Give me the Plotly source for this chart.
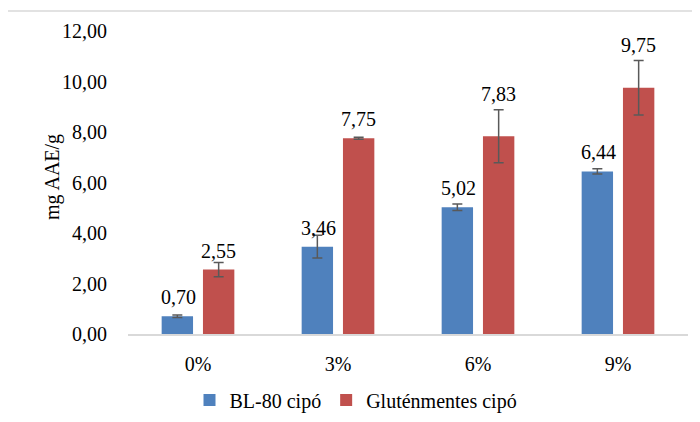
import plotly.graph_objects as go

categories = ["0%", "3%", "6%", "9%"]
bl80_values = [0.70, 3.46, 5.02, 6.44]
bl80_errors = [0.05, 0.45, 0.13, 0.10]
gf_values = [2.55, 7.75, 7.83, 9.75]
gf_errors = [0.28, 0.04, 1.05, 1.08]
series_names = ["BL-80 cipó", "Gluténmentes cipó"]
tick_values = [0, 2, 4, 6, 8, 10, 12]
tick_labels = ["0,00", "2,00", "4,00", "6,00", "8,00", "10,00", "12,00"]

FONT = "Liberation Serif, serif"
BLUE = "#4f81bd"
RED = "#c0504d"
ERR = "#595959"
FS = 20

# plot area in page pixels (page is offset by ~8px body margin)
PL, PR, PT, PB = 128, 688, 31, 334
PW, PH = PR - PL, PB - PT


def px(xp):
    return (xp - PL) / PW


def py(yp):
    return (PB - yp) / PH


fig = go.Figure()
for name, vals, errs, col in [(series_names[0], bl80_values, bl80_errors, BLUE),
                              (series_names[1], gf_values, gf_errors, RED)]:
    fig.add_trace(go.Bar(
        x=categories, y=vals, name=name, marker=dict(color=col, line=dict(width=0)),
        error_y=dict(type="data", array=errs, visible=True, color=ERR, thickness=1.5, width=5),
    ))

# data labels
for idx, (vals, errs) in enumerate([(bl80_values, bl80_errors), (gf_values, gf_errors)]):
    for i, (v, e) in enumerate(zip(vals, errs)):
        big = e > 0.5
        fig.add_annotation(
            x=categories[i], y=(v + e) if big else v, xref="x", yref="y",
            text=f"{v:.2f}".replace(".", ","), showarrow=False,
            xshift=-20 if idx == 0 else 20, yshift=16 if big else 19,
            xanchor="center", yanchor="middle",
            font=dict(family=FONT, size=FS, color="#000"),
        )

# y-axis title
fig.add_annotation(x=px(53), y=py(177), xref="paper", yref="paper",
                   xanchor="center", yanchor="middle",
                   text="mg AAE/g", textangle=-90, showarrow=False,
                   font=dict(family=FONT, size=FS, color="#000"))

# outer border lines (top and left)
fig.add_shape(type="line", xref="paper", yref="paper",
              x0=px(7), x1=px(710), y0=py(11), y1=py(11),
              line=dict(color="#d9d9d9", width=1.5))
fig.add_shape(type="line", xref="paper", yref="paper",
              x0=px(7), x1=px(7), y0=py(11), y1=py(430),
              line=dict(color="#d9d9d9", width=1.5))

OFF = 8
fig.update_layout(
    width=700, height=422,
    margin=dict(l=PL - OFF, r=700 - (PR - OFF), t=PT - OFF, b=422 - (PB - OFF), autoexpand=False),
    paper_bgcolor="white", plot_bgcolor="white",
    barmode="group", bargap=0.41, bargroupgap=0.24,
    font=dict(family=FONT, size=FS, color="#000"),
    showlegend=True,
    legend=dict(orientation="h", x=px(356), xanchor="center",
                y=py(400), yanchor="middle",
                font=dict(family=FONT, size=FS, color="#000"),
                itemwidth=30, tracegroupgap=0),
    xaxis=dict(showgrid=False, showline=True, linecolor="#d9d9d9", linewidth=1.5,
               ticks="", ticklabelstandoff=11, tickfont=dict(family=FONT, size=FS),
               automargin=False),
    yaxis=dict(range=[0, 12], tickvals=tick_values, ticktext=tick_labels,
               showgrid=False, showline=False, zeroline=False, ticks="",
               ticklabelstandoff=20, tickfont=dict(family=FONT, size=FS),
               automargin=False),
)

fig.write_html("out.html")
